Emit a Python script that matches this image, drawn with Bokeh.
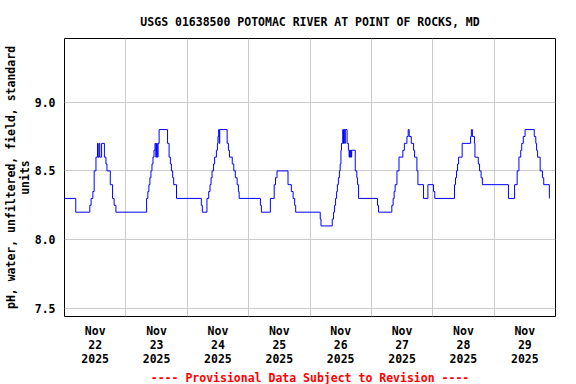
from bokeh.plotting import figure
from bokeh.models import FixedTicker, Range1d, Title
from bokeh.embed import file_html
from bokeh.resources import INLINE

# hours since 2025-11-22 00:00 (EST) at which the reading changes, and the pH value from then on
hours = [0.0, 4.4, 9.9, 10.4, 11.1, 11.6, 12.3, 12.9, 13.1, 13.5, 13.8, 14.5, 15.6, 16.2, 16.6,
         17.9, 18.8, 19.4, 20.1,
         32.1, 32.6, 33.0, 33.4, 33.8, 34.2, 34.6, 35.0, 35.4, 35.7, 36.0, 36.3, 36.6, 37.0,
         40.3, 40.9, 41.4, 41.8, 42.3, 42.7, 43.8,
         53.5, 53.9, 55.7, 56.4, 56.9, 57.3, 57.7, 58.3, 58.7, 59.4, 59.8, 60.0, 60.3, 60.5, 60.7,
         63.6, 64.1, 64.5, 65.6, 66.2, 66.8, 67.5, 68.0, 68.3,
         76.6, 77.0, 80.5, 82.0, 82.5, 83.1, 87.4, 88.7, 89.4, 90.0, 90.4,
         100.0, 100.3, 104.7, 105.2, 105.6, 106.0, 106.4, 106.7, 107.1, 107.5, 107.8, 108.1, 108.3,
         108.8, 109.1, 109.3, 109.6, 109.8, 110.5, 111.0, 111.3, 111.5, 111.7, 111.9, 112.1, 112.3,
         113.7, 114.3, 114.6, 115.0,
         122.4, 122.8, 128.0, 128.5, 128.9, 129.3, 130.0, 130.8, 132.3, 132.9, 133.9, 134.4, 134.8,
         135.6, 136.5, 136.9, 137.8, 138.2, 140.4, 142.1, 144.3, 144.8,
         152.5, 152.9, 153.3, 153.7, 154.1, 155.5, 158.8, 159.1, 159.5, 160.3, 160.5, 161.8, 162.3,
         162.9, 163.4, 173.6, 176.0, 177.0, 177.7, 178.4, 178.8, 179.4, 180.1, 183.7, 184.3, 184.6,
         185.0, 186.0, 186.9, 187.4, 189.6]
ph = [8.3, 8.2, 8.25, 8.3, 8.35, 8.5, 8.6, 8.7, 8.6, 8.7, 8.6, 8.7, 8.6, 8.55, 8.5,
      8.4, 8.3, 8.25, 8.2,
      8.3, 8.35, 8.4, 8.45, 8.5, 8.55, 8.6, 8.65, 8.7, 8.6, 8.7, 8.6, 8.7, 8.8,
      8.7, 8.6, 8.55, 8.5, 8.45, 8.4, 8.3,
      8.25, 8.2, 8.3, 8.35, 8.4, 8.45, 8.5, 8.55, 8.6, 8.65, 8.7, 8.75, 8.8, 8.7, 8.8,
      8.7, 8.65, 8.6, 8.55, 8.5, 8.45, 8.4, 8.35, 8.3,
      8.25, 8.2, 8.3, 8.4, 8.45, 8.5, 8.4, 8.35, 8.3, 8.25, 8.2,
      8.15, 8.1, 8.15, 8.2, 8.25, 8.3, 8.35, 8.4, 8.45, 8.5, 8.55, 8.65, 8.7,
      8.8, 8.7, 8.8, 8.7, 8.8, 8.7, 8.65, 8.6, 8.65, 8.6, 8.65, 8.6, 8.65,
      8.5, 8.45, 8.4, 8.3,
      8.25, 8.2, 8.25, 8.3, 8.35, 8.4, 8.5, 8.6, 8.65, 8.7, 8.75, 8.8, 8.75,
      8.7, 8.65, 8.6, 8.5, 8.4, 8.3, 8.4, 8.35, 8.3,
      8.4, 8.45, 8.5, 8.55, 8.6, 8.7, 8.75, 8.8, 8.75, 8.7, 8.6, 8.55, 8.5,
      8.45, 8.4, 8.3, 8.4, 8.5, 8.6, 8.65, 8.7, 8.75, 8.8, 8.75, 8.7, 8.65,
      8.6, 8.5, 8.45, 8.4, 8.3]

day_ticks = [12, 36, 60, 84, 108, 132, 156, 180]
day_labels = ["Nov\n22\n2025", "Nov\n23\n2025", "Nov\n24\n2025", "Nov\n25\n2025",
              "Nov\n26\n2025", "Nov\n27\n2025", "Nov\n28\n2025", "Nov\n29\n2025"]
midnights = [0, 24, 48, 72, 96, 120, 144, 168, 192]
y_ticks = [7.5, 8.0, 8.5, 9.0]
y_labels = ["7.5", "8.0", "8.5", "9.0"]

title_text = "USGS 01638500 POTOMAC RIVER AT POINT OF ROCKS, MD"
ylabel = "pH, water, unfiltered, field, standard\nunits"
note = "---- Provisional Data Subject to Revision ----"

FONT = "DejaVu Sans Mono"
FS = "11.5px"

p = figure(width=576, height=384, x_range=Range1d(0, 192), y_range=Range1d(7.442, 9.462),
           output_backend="svg", toolbar_location=None,
           min_border_left=64, min_border_right=21, min_border_top=38, min_border_bottom=68)

p.title.text = title_text
p.title.align = "center"
p.title.text_font = FONT
p.title.text_font_size = FS
p.title.text_font_style = "bold"
p.title.text_color = "black"
p.title.standoff = 19

p.step(hours, ph, mode="after", line_color="#0000ff", line_width=1)

p.outline_line_color = "black"
p.outline_line_width = 1
p.background_fill_color = "white"
p.border_fill_color = "white"

p.xaxis.ticker = FixedTicker(ticks=day_ticks)
p.xaxis.major_label_overrides = {t: l for t, l in zip(day_ticks, day_labels)}
p.yaxis.ticker = FixedTicker(ticks=y_ticks)
p.yaxis.major_label_overrides = {t: l for t, l in zip(y_ticks, y_labels)}
for ax in (p.xaxis[0], p.yaxis[0]):
    ax.axis_line_color = None
    ax.major_tick_line_color = None
    ax.minor_tick_line_color = None
    ax.major_tick_out = 0
    ax.major_tick_in = 0
    ax.major_label_text_font = FONT
    ax.major_label_text_font_size = FS
    ax.major_label_text_font_style = "bold"
    ax.major_label_text_color = "black"
p.xaxis.major_label_standoff = 7
p.xaxis.major_label_text_line_height = 1.0
p.yaxis.major_label_standoff = 9

p.yaxis.axis_label = ylabel
p.yaxis.axis_label_text_font = FONT
p.yaxis.axis_label_text_font_size = FS
p.yaxis.axis_label_text_font_style = "bold"
p.yaxis.axis_label_text_color = "black"
p.yaxis.axis_label_text_line_height = 1.0
p.yaxis.axis_label_standoff = 0

p.xgrid.ticker = FixedTicker(ticks=midnights)
p.ygrid.ticker = FixedTicker(ticks=y_ticks)
p.grid.grid_line_color = "#cccccc"
p.grid.grid_line_width = 1

p.add_layout(Title(text=note, align="center", text_font=FONT, text_font_size=FS,
                   text_font_style="bold", text_color="#ff0000", standoff=0), "below")

open("out.html", "w").write(file_html(p, INLINE))
